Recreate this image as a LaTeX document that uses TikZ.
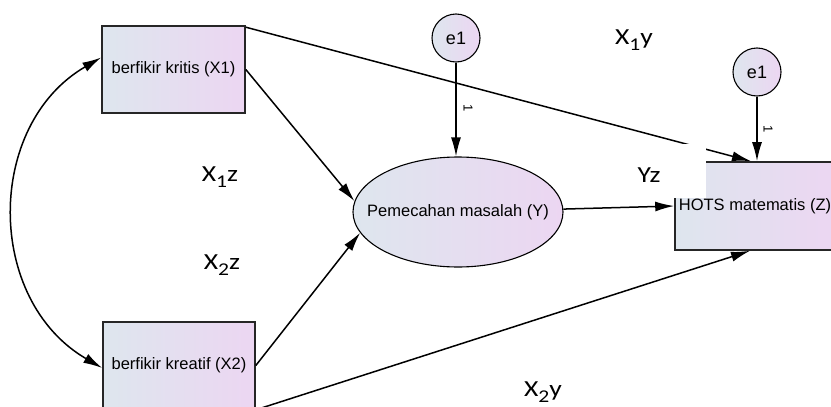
\documentclass[tikz,border=0pt]{standalone}
\usepackage{fontspec}
\setmainfont{Liberation Sans}
\newfontfamily\labfont{Carlito}
\usetikzlibrary{arrows.meta,shapes.geometric}
\definecolor{gl}{RGB}{222,230,238}
\definecolor{gr}{RGB}{236,214,242}
\newcommand\lbltxt[1]{\scalebox{1.2}[1]{\labfont\fontsize{23}{23}\selectfont #1}}
\newcommand\lblsub[1]{\raisebox{-6pt}{\fontsize{18}{18}\selectfont #1}}
\begin{document}
\begin{tikzpicture}[x=1pt,y=-1pt,
 box/.style={draw=black!85,line width=1.6pt,left color=gl,right color=gr,inner sep=0pt,font=\fontsize{16.5}{16.5}\selectfont},
 ell/.style={ellipse,draw=black,line width=1.1pt,left color=gl,right color=gr,minimum width=210pt,minimum height=110pt,inner sep=0pt,font=\fontsize{16.5}{16.5}\selectfont},
 err/.style={circle,draw=black,line width=1.1pt,left color=gl,right color=gr,minimum size=48pt,inner sep=0pt,font=\fontsize{18}{18}\selectfont},
 conn/.style={line width=1.5pt,-{Latex[length=19pt,width=10pt]}},
 one/.style={font=\fontsize{13}{13}\selectfont,rotate=-90,inner sep=0pt},
 lab/.style={inner sep=0pt}
]
\path[use as bounding box, clip] (0,0) rectangle (831,407);
\node[box,minimum width=143pt,minimum height=87pt] (x1) at (173.5,69.5) {berfikir kritis (X1)};
\node[box,minimum width=152pt,minimum height=87pt] (x2) at (179,365.5) {berfikir kreatif (X2)};
\node[box,minimum width=160pt,minimum height=88pt] (hots) at (755,206) {HOTS matematis (Z)};
\node[ell] (y) at (458,212) {\makebox[0pt]{Pemecahan masalah (Y)}};
\node[err] (e1a) at (456,38) {e1};
\node[err] (e1b) at (757,72) {e1};

\draw[line width=1.5pt,{Latex[length=19pt,width=10pt]}-{Latex[length=19pt,width=10pt]}]
  ([yshift=12pt]x1.west) .. controls (-15,125) and (-15,300) .. ([yshift=-2.5pt]x2.west);
\draw[conn] (e1a) -- (e1a |- y.north);
\draw[conn] (e1b) -- (e1b |- hots.north);
\draw[conn] (x1.east) -- (y.174);
\draw[conn] (x2.east) -- (y.192);
\draw[conn] ([yshift=-2pt]x1.north east) -- ([xshift=-4pt]hots.north);
\draw[conn] (x2.south east) -- ([xshift=-5pt]hots.south);
\draw[conn] (y) -- (hots.west);

\fill[white] (615,144) rectangle (706,198);

\node[one] (w1) at (468,108) {1};
\node[one] (w2) at (768,129) {1};

\node[lab] (lx1y) at (634,40) {\lbltxt{X\lblsub{1}y}};
\node[lab] (lx1z) at (220,177) {\lbltxt{X\lblsub{1}z}};
\node[lab] (lx2z) at (222,265) {\lbltxt{X\lblsub{2}z}};
\node[lab] (lyz) at (649,175) {\lbltxt{Yz}};
\node[lab] (lx2y) at (543,392) {\lbltxt{X\lblsub{2}y}};
\end{tikzpicture}
\end{document}
